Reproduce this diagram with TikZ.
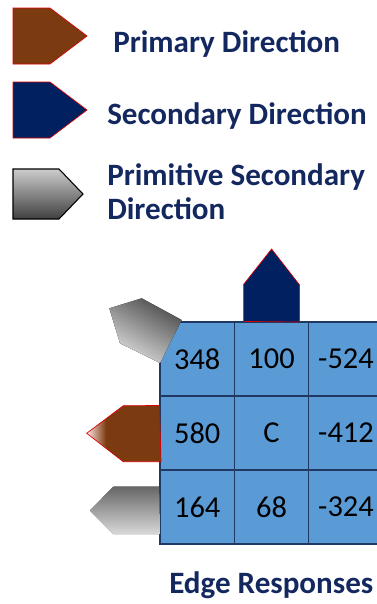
\documentclass[tikz,border=0pt]{standalone}
\usepackage{fontspec}
\setmainfont{Carlito}
\usetikzlibrary{positioning}

\definecolor{brownarrow}{RGB}{124,58,16}
\definecolor{navyarrow}{RGB}{0,32,96}
\definecolor{labelnavy}{RGB}{20,40,96}
\definecolor{cellblue}{RGB}{91,155,213}
\definecolor{cellline}{RGB}{31,56,100}
\pgfdeclarehorizontalshading{brownfade}{100bp}{color(0bp)=(white); color(25bp)=(white!90!red); color(38bp)=(brownarrow); color(100bp)=(brownarrow)}

\begin{document}
\begin{tikzpicture}[x=0.75pt, y=-0.75pt,
    legendtext/.style={anchor=base west, inner sep=0pt, text=labelnavy, font=\fontsize{23.3}{27}\selectfont\bfseries},
    cell/.style={draw=cellline, line width=0.9pt, fill=cellblue, minimum width=55.8pt, minimum height=55.5pt, inner sep=0pt, font=\fontsize{22.8}{26}\selectfont},
    redrim/.style={draw=red!85!black, line width=0.5pt}]
    \useasboundingbox (0,0) rectangle (377,604);
    \clip (0,0) rectangle (377,604);

    % Legend
    \draw[redrim, fill=brownarrow] (13,8) -- (50,8) -- (87,36) -- (50,64) -- (13,64) -- cycle;
    \draw[redrim, fill=navyarrow] (13,82) -- (50,82) -- (87,110) -- (50,138) -- (13,138) -- cycle;
    \draw[black, line width=0.8pt, top color=gray!40, bottom color=black!75] (13,169) -- (59,169) -- (83,194) -- (59,219) -- (13,219) -- cycle;
    \node[legendtext] (prim) at (113,52) {Primary Direction};
    \node[legendtext] (sec) at (107,124) {Secondary Direction};
    \node[legendtext] (psec) at (107,185) {Primitive Secondary};
    \node[legendtext] (psec2) at (107,219) {Direction};

    % Edge response grid
    \node[cell] (c11) at (197.2,359) {348};
    \node[cell] (c12) at (271.6,359) {100};
    \node[cell] (c13) at (346.0,359) {-524};
    \node[cell] (c21) at (197.2,433) {580};
    \node[cell] (c22) at (271.6,433) {C};
    \node[cell] (c23) at (346.0,433) {-412};
    \node[cell] (c31) at (197.2,507) {164};
    \node[cell] (c32) at (271.6,507) {68};
    \node[cell] (c33) at (346.0,507) {-324};

    % Direction arrows round the grid
    \draw[redrim, fill=navyarrow] (c12.north) ++(-28,0) -- ++(0,-37) -- (271.6,249) -- (299.6,285) -- (299.6,322) -- cycle;
    \draw[redrim, shading=brownfade] (c21.west) ++(0,-27.5) -- (123.3,405.7) -- (86.7,433.3) -- (123.3,461.7) -- (161,461.7) -- cycle;
    \fill[top color=black!60, bottom color=gray!30] (c31.west) ++(0,-20.5) -- (113.3,486.7) -- (90,510.5) -- (113.3,534) -- (160,534) -- cycle;
    \fill[top color=black!70, bottom color=gray!25, shading angle=-30] (109.3,308.3) -- (141.7,298.3) -- (181.7,320) -- (160,363) -- (120,343.3) -- cycle;

    % Caption
    \node[legendtext] (caption) at (169,593) {Edge Responses};
\end{tikzpicture}
\end{document}
